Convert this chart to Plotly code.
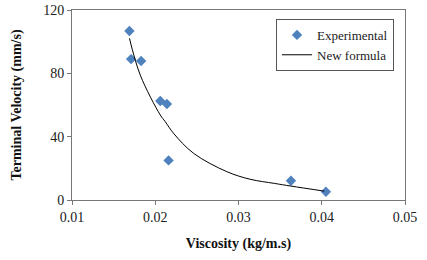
import plotly.graph_objects as go

# Experimental data
exp_viscosity = [0.0169, 0.0171, 0.0183, 0.0206, 0.0214, 0.0216, 0.0363, 0.0405]
exp_velocity = [106.7, 89.0, 87.8, 62.5, 60.6, 25.0, 12.2, 5.2]

# New formula curve
fit_viscosity = [0.0169, 0.0182, 0.0206, 0.0212, 0.0222, 0.0246, 0.0286, 0.0314, 0.0343, 0.0363, 0.0403]
fit_velocity = [102.1, 78.9, 53.7, 49.5, 42.1, 29.5, 17.9, 13.1, 10.5, 8.8, 5.6]

x_ticks = [0.01, 0.02, 0.03, 0.04, 0.05]
y_ticks = [0, 40, 80, 120]

serif = "Liberation Serif, Times New Roman, serif"

fig = go.Figure()
fig.add_trace(go.Scatter(
    x=exp_viscosity, y=exp_velocity, mode="markers", name="Experimental",
    marker=dict(symbol="diamond", size=8, color="#4F81BD"),
))
fig.add_trace(go.Scatter(
    x=fit_viscosity, y=fit_velocity, mode="lines", name="New formula",
    line=dict(color="black", width=1, shape="spline"),
))

fig.update_layout(
    width=427, height=260,
    margin=dict(l=72, r=22, t=10, b=60),
    paper_bgcolor="white", plot_bgcolor="white",
    font=dict(family=serif, size=14, color="#222222"),
    showlegend=True,
    legend=dict(
        x=0.967, y=0.953, xanchor="right", yanchor="top",
        bgcolor="white", bordercolor="#555555", borderwidth=1,
        font=dict(family=serif, size=13, color="#222222"),
        tracegroupgap=0, itemwidth=30,
    ),
    xaxis=dict(
        range=[0.01, 0.05], tickvals=x_ticks, ticktext=["0.01", "0.02", "0.03", "0.04", "0.05"],
        showgrid=False, zeroline=False, automargin=False,
        showline=True, linecolor="#777777", linewidth=1, mirror=True,
        ticks="outside", ticklen=4, tickcolor="#777777",
        title=dict(text="<b>Viscosity (kg/m.s)</b>", font=dict(family=serif, size=14, color="#111111"), standoff=14),
    ),
    yaxis=dict(
        range=[0, 120], tickvals=y_ticks,
        showgrid=False, zeroline=False, automargin=False,
        showline=True, linecolor="#777777", linewidth=1, mirror=True,
        ticks="outside", ticklen=4, tickcolor="#777777",
        title=dict(text="<b>Terminal Velocity (mm/s)</b>", font=dict(family=serif, size=14, color="#111111"), standoff=18),
    ),
)

fig.write_html("out.html", config={"displayModeBar": False},
               post_script="document.body.style.margin='0';")
